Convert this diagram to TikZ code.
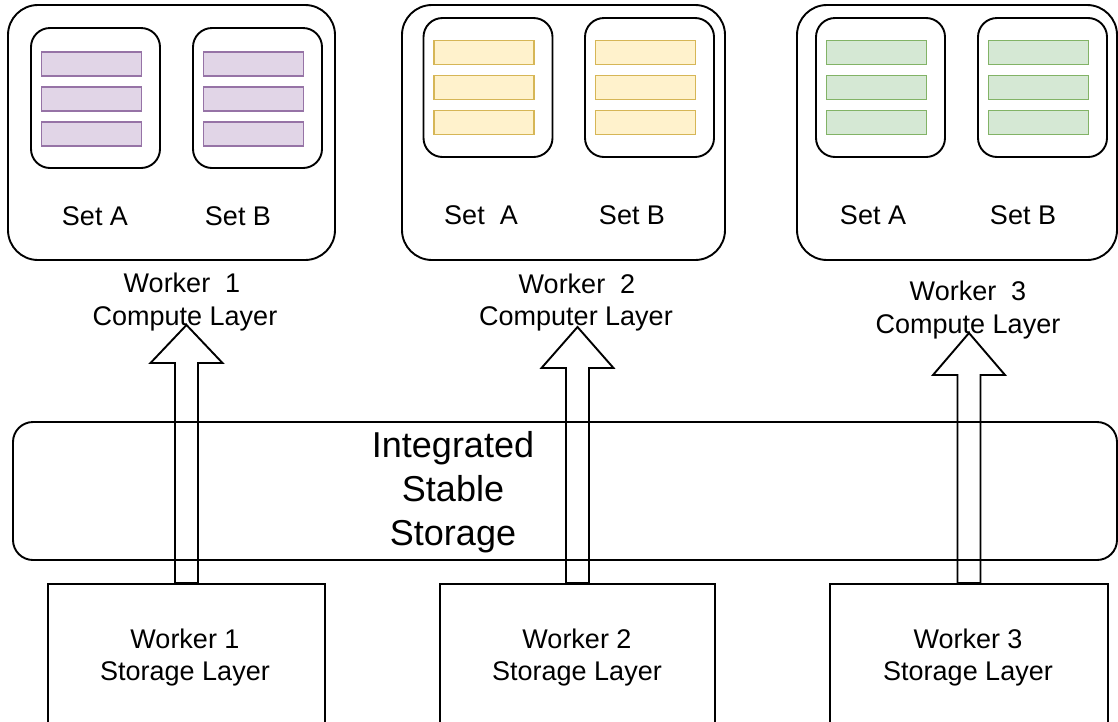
\documentclass[tikz,border=0pt]{standalone}
\usepackage{fontspec}
\setmainfont{Liberation Sans}
\usetikzlibrary{calc}

\definecolor{purplefill}{HTML}{E1D5E7}
\definecolor{purpleline}{HTML}{9673A6}
\definecolor{yellowfill}{HTML}{FFF2CC}
\definecolor{yellowline}{HTML}{D6B656}
\definecolor{greenfill}{HTML}{D5E8D4}
\definecolor{greenline}{HTML}{82B366}

% hollow block arrow from the top of a storage box up to a tip coordinate
% #1 storage node, #2 tip coordinate, #3 head length
\newcommand{\hollowarrow}[3]{%
  \draw[hollow] ($(#1.north)+(-11.5,0)$) -- ($(#2)+(-11.5,#3)$) -- ($(#2)+(-36,#3)$)
    -- (#2) -- ($(#2)+(36,#3)$) -- ($(#2)+(11.5,#3)$) -- ($(#1.north)+(11.5,0)$) -- cycle;}

\begin{document}
\begin{tikzpicture}[x=1pt,y=-1pt,
  worker/.style={draw, line width=1.9pt, rounded corners=30pt, inner sep=0pt, minimum height=255pt},
  setbox/.style={draw, line width=1.9pt, rounded corners=19pt, inner sep=0pt, minimum width=129pt, minimum height=140pt},
  bar/.style={draw=#1line, fill=#1fill, line width=1.5pt, inner sep=0pt, minimum width=100pt, minimum height=24pt},
  label/.style={font=\fontsize{27}{32}\selectfont, anchor=base, inner sep=0pt},
  biglabel/.style={font=\fontsize{36}{44}\selectfont, anchor=base, inner sep=0pt},
  storage/.style={draw, fill=white, line width=1.9pt, anchor=north, inner sep=0pt, minimum height=170pt},
  band/.style={draw, line width=1.9pt, rounded corners=20pt, inner sep=0pt, minimum width=1104pt, minimum height=138pt},
  hollow/.style={draw, line width=1.9pt, line join=miter},
]
\useasboundingbox (0,0) rectangle (1118,721);
\clip (0,0) rectangle (1118,721);

% ---------- compute layer: worker boxes ----------
\node[worker, minimum width=327pt] (w1) at (171.5,132.5) {};
\node[worker, minimum width=323pt] (w2) at (563.5,132.5) {};
\node[worker, minimum width=320pt] (w3) at (957,132.5) {};

\node[setbox] (w1a) at (95.5,98) {};
\node[setbox] (w1b) at (257.5,98) {};
\node[setbox, minimum height=139pt] (w2a) at (488,87.5) {};
\node[setbox, minimum height=139pt] (w2b) at (649.5,87.5) {};
\node[setbox, minimum height=139pt] (w3a) at (880.5,87.5) {};
\node[setbox, minimum height=139pt] (w3b) at (1042.5,87.5) {};

% three records in every set
\foreach \s/\c/\dy in {w1a/purple/1, w1b/purple/1, w2a/yellow/0, w2b/yellow/0, w3a/green/0, w3b/green/0}{
  \foreach \k/\off in {1/-35, 2/0, 3/35}{
    \node[bar=\c] (\s-r\k) at ($(\s.center)+(-4,\off+\dy)$) {};
  }
}

\node[label] (w1al) at (95,225) {Set A};
\node[label] (w1bl) at (238,225) {Set B};
\node[label] (w2al) at (481,224) {Set~~A};
\node[label] (w2bl) at (632,224) {Set B};
\node[label] (w3al) at (873,224) {Set A};
\node[label] (w3bl) at (1023,224) {Set B};

\node[label] (c1a) at (182,292) {Worker~~1};
\node[label] (c1b) at (185,325) {Compute Layer};
\node[label] (c2a) at (577,293) {Worker~~2};
\node[label] (c2b) at (576,325) {Computer Layer};
\node[label] (c3a) at (968,300) {Worker~~3};
\node[label] (c3b) at (968,333) {Compute Layer};

% ---------- shared storage band ----------
\node[band] (iss) at (565,491) {};
\node[biglabel] (iss1) at (453,457) {Integrated};
\node[biglabel] (iss2) at (453,501) {Stable};
\node[biglabel] (iss3) at (453,545) {Storage};

% ---------- storage layer ----------
\node[storage, minimum width=277pt] (s1) at (186.5,583) {};
\node[storage, minimum width=275pt] (s2) at (577.5,583) {};
\node[storage, minimum width=278pt] (s3) at (969,583) {};

\node[label] (s1a) at (185,648) {Worker 1};
\node[label] (s1b) at (185,680) {Storage Layer};
\node[label] (s2a) at (577,648) {Worker 2};
\node[label] (s2b) at (577,680) {Storage Layer};
\node[label] (s3a) at (968,648) {Worker 3};
\node[label] (s3b) at (968,680) {Storage Layer};

% ---------- data flow from storage to compute ----------
\coordinate (t1) at (s1.north |- 0,325);
\coordinate (t2) at (s2.north |- 0,327);
\coordinate (t3) at (s3.north |- 0,333);
\hollowarrow{s1}{t1}{38}
\hollowarrow{s2}{t2}{41}
\hollowarrow{s3}{t3}{42}
\end{tikzpicture}
\end{document}
